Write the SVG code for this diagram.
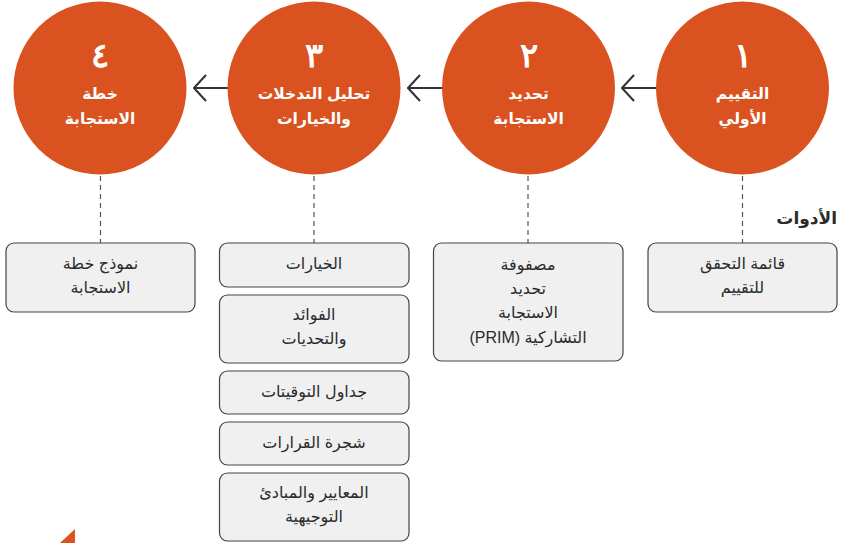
<svg xmlns="http://www.w3.org/2000/svg" width="843" height="543" viewBox="0 0 843 543">
  <style>
    .stage { fill: #da521f; }
    .num { font-family: "DejaVu Serif", "Liberation Serif", serif; font-size: 34px; font-weight: bold; fill: #ffffff; text-anchor: middle; }
    .title { font-family: "Liberation Sans", "DejaVu Sans", sans-serif; font-size: 15.5px; font-weight: bold; fill: #ffffff; text-anchor: middle; direction: rtl; }
    .tool rect { fill: #f0f0f1; stroke: #444444; stroke-width: 1.2; }
    .tool text { font-family: "Liberation Sans", "DejaVu Sans", sans-serif; font-size: 16px; fill: #2b2b2b; text-anchor: middle; direction: rtl; }
    .flow { stroke: #333333; stroke-width: 1.8; fill: none; }
    .dash { stroke: #555555; stroke-width: 1.2; stroke-dasharray: 5 4; fill: none; }
    .label { font-family: "Liberation Sans", "DejaVu Sans", sans-serif; font-size: 17px; font-weight: bold; fill: #2b2b2b; text-anchor: end; }
  </style>
  <defs>
    <marker id="chev" viewBox="0 0 14 28" refX="13" refY="14" markerWidth="14" markerHeight="28" markerUnits="userSpaceOnUse" orient="auto">
      <path d="M1 1 L13 14 L1 27" fill="none" stroke="#333333" stroke-width="2"/>
    </marker>
  </defs>

  <!-- connectors -->
  <g id="connectors">
    <line class="flow" x1="660" y1="88" x2="622" y2="88" marker-end="url(#chev)"/>
    <line class="flow" x1="446" y1="88" x2="408" y2="88" marker-end="url(#chev)"/>
    <line class="flow" x1="232" y1="88" x2="194" y2="88" marker-end="url(#chev)"/>
    <line class="dash" x1="100.5" y1="176" x2="100.5" y2="243"/>
    <line class="dash" x1="314" y1="176" x2="314" y2="243"/>
    <line class="dash" x1="528" y1="176" x2="528" y2="243"/>
    <line class="dash" x1="742.5" y1="176" x2="742.5" y2="243"/>
  </g>

  <!-- stages -->
  <g id="stage-1">
    <circle class="stage" cx="742.5" cy="88" r="86.5"/>
    <text class="num" x="742.5" y="67">١</text>
    <text class="title" x="742.5" y="99">التقييم</text>
    <text class="title" x="742.5" y="124">الأولي</text>
  </g>
  <g id="stage-2">
    <circle class="stage" cx="528.5" cy="88" r="86.5"/>
    <text class="num" x="528.5" y="67">٢</text>
    <text class="title" x="528.5" y="99">تحديد</text>
    <text class="title" x="528.5" y="124">الاستجابة</text>
  </g>
  <g id="stage-3">
    <circle class="stage" cx="314" cy="88" r="86.5"/>
    <text class="num" x="314" y="67">٣</text>
    <text class="title" x="314" y="99">تحليل التدخلات</text>
    <text class="title" x="314" y="124">والخيارات</text>
  </g>
  <g id="stage-4">
    <circle class="stage" cx="100" cy="88" r="86.5"/>
    <text class="num" x="100" y="67">٤</text>
    <text class="title" x="100" y="99">خطة</text>
    <text class="title" x="100" y="124">الاستجابة</text>
  </g>

  <text class="label" x="837" y="224">الأدوات</text>

  <!-- tools -->
  <g id="tool-checklist" class="tool">
    <rect x="648" y="243" width="189" height="69" rx="8"/>
    <text x="742.5" y="269">قائمة التحقق</text>
    <text x="742.5" y="293">للتقييم</text>
  </g>
  <g id="tool-prim" class="tool">
    <rect x="433.5" y="243" width="189.5" height="118" rx="8"/>
    <text x="528" y="270">مصفوفة</text>
    <text x="528" y="294">تحديد</text>
    <text x="528" y="318">الاستجابة</text>
    <text x="528" y="343">التشاركية (PRIM)</text>
  </g>
  <g id="tool-options" class="tool">
    <rect x="219.5" y="243" width="189.5" height="44" rx="8"/>
    <text x="314" y="269">الخيارات</text>
  </g>
  <g id="tool-benefits" class="tool">
    <rect x="219.5" y="295" width="189.5" height="68" rx="8"/>
    <text x="314" y="320">الفوائد</text>
    <text x="314" y="344">والتحديات</text>
  </g>
  <g id="tool-timelines" class="tool">
    <rect x="219.5" y="371" width="189.5" height="43" rx="8"/>
    <text x="314" y="397">جداول التوقيتات</text>
  </g>
  <g id="tool-decision-tree" class="tool">
    <rect x="219.5" y="422" width="189.5" height="43" rx="8"/>
    <text x="314" y="448">شجرة القرارات</text>
  </g>
  <g id="tool-criteria" class="tool">
    <rect x="219.5" y="473" width="189.5" height="68" rx="8"/>
    <text x="314" y="498">المعايير والمبادئ</text>
    <text x="314" y="522">التوجيهية</text>
  </g>
  <g id="tool-plan-template" class="tool">
    <rect x="6" y="243" width="189" height="69" rx="8"/>
    <text x="100.5" y="269">نموذج خطة</text>
    <text x="100.5" y="293">الاستجابة</text>
  </g>

  <!-- corner mark -->
  <polygon class="stage" points="75,529 75,543 60,543"/>
</svg>
